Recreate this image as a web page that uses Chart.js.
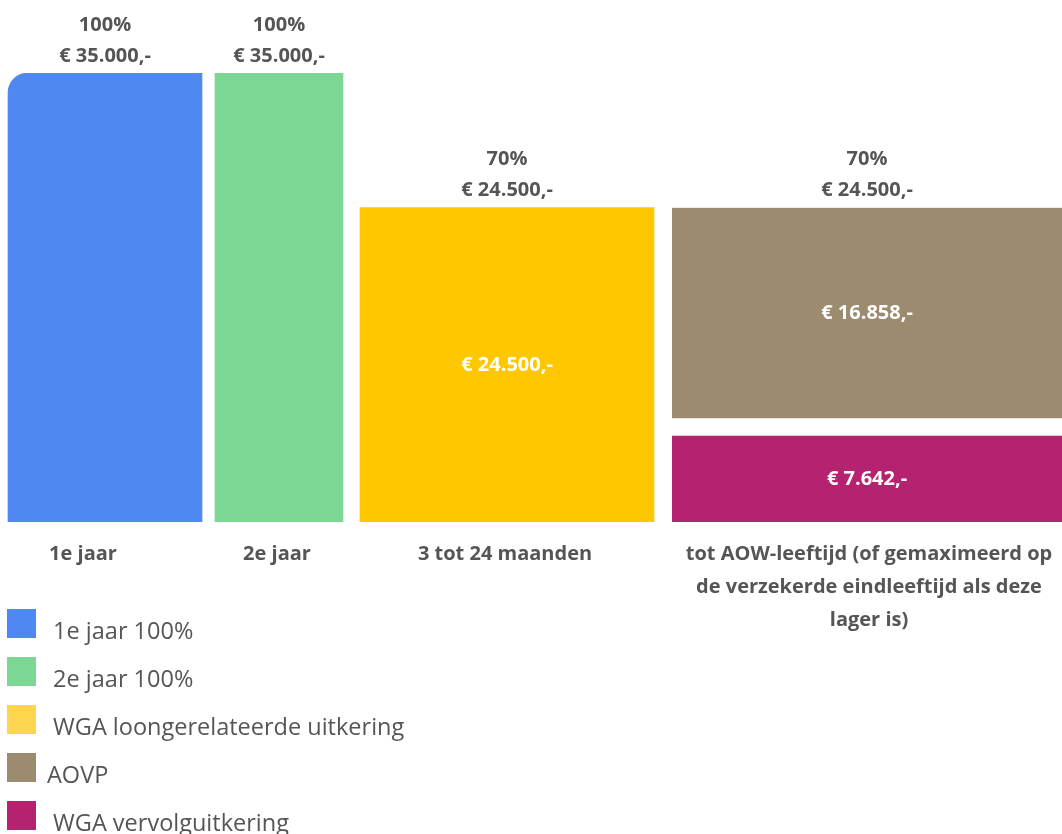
<!DOCTYPE html>
<html>
<head>
<meta charset="utf-8">
<script src="https://cdn.jsdelivr.net/npm/chart.js@4"></script>
<style>
    body { margin: 0; background: #fff; }
    #wrap { position: relative; width: 1062px; height: 834px; overflow: hidden; }
    #legend { position: absolute; left: 7px; top: 607px; margin: 0; padding: 0; list-style: none;
        font-family: 'Open Sans', sans-serif; font-size: 23.5px; color: #555; }
    #legend li { display: flex; align-items: flex-start; height: 48px; }
    #legend .box { width: 29px; height: 29px; margin-top: 2px; margin-right: 11px; flex: none; }
    #legend .txt { line-height: 47px; white-space: pre; }
</style>
</head>
<body>
<div id="wrap">
    <canvas id="chart" width="1062" height="834"></canvas>
    <ul id="legend"></ul>
</div>
<script>
// === Data ===
const periods = ['1e jaar', '2e jaar', '3 tot 24 maanden',
    ['tot AOW-leeftijd (of gemaximeerd op', 'de verzekerde eindleeftijd als deze', 'lager is)']];
const seriesNames = [' 1e jaar 100%', ' 2e jaar 100%', ' WGA loongerelateerde uitkering', 'AOVP', ' WGA vervolguitkering'];
const seriesPeriod = [0, 1, 2, 3, 3];
const seriesValues = [35000, 35000, 24500, 16858, 7642];
const periodPercent = ['100%', '100%', '70%', '70%'];
const periodTotal = [35000, 35000, 24500, 24500];

// === Layout / style ===
const columnWidths = [194, 128, 294, 390];   // px
const columnGaps = [8, 13, 17, 18];          // px before each column
const tickShift = [-22, -2, -2, 2];          // period labels are not exactly centred
const stackOrder = [0, 1, 2, 4, 3];          // WGA vervolg at the bottom, AOVP on top
const barColors = ['#5088f2', '#7dd794', '#ffc700', '#9d8b70', '#b52270'];
const legendColors = ['#5088f2', '#7dd794', '#ffd54f', '#9d8b70', '#b52270'];
const textGrey = '#555555';
const font = "'Open Sans', sans-serif";

const columnCenters = [];
let cursor = 0;
columnWidths.forEach((w, i) => {
    cursor += columnGaps[i];
    columnCenters.push(cursor + w / 2);
    cursor += w;
});

const euro = v => '€ ' + v.toLocaleString('nl-NL') + ',-';

const datasets = stackOrder.map(i => {
    const p = seriesPeriod[i];
    const ds = {
        label: seriesNames[i].trim(),
        data: [{ x: columnCenters[p], y: seriesValues[i] }],
        backgroundColor: barColors[i],
        borderColor: '#ffffff',
        borderWidth: 0,
        barThickness: columnWidths[p],
        maxBarThickness: columnWidths[p],
        series: i
    };
    if (i === 0) ds.borderRadius = { topLeft: 20, topRight: 0, bottomLeft: 0, bottomRight: 0 };
    if (i === 3) { ds.borderWidth = { top: 0, left: 0, right: 0, bottom: 6 }; ds.borderSkipped = false; }
    if (i === 4) ds.borderWidth = { top: 12, left: 0, right: 0, bottom: 0 };
    return ds;
});

// === Labels on and above the bars ===
const barLabels = {
    id: 'barLabels',
    afterDatasetsDraw(chart) {
        const ctx = chart.ctx;
        const y = chart.scales.y;
        const x = chart.scales.x;
        ctx.save();
        ctx.textAlign = 'center';
        ctx.textBaseline = 'middle';
        ctx.font = `bold 20px ${font}`;

        // top labels per period
        periodTotal.forEach((t, p) => {
            const top = y.getPixelForValue(t);
            const cx = x.getPixelForValue(columnCenters[p]);
            ctx.fillStyle = textGrey;
            ctx.fillText(periodPercent[p], cx, top - 48);
            ctx.fillText(euro(t), cx, top - 17);
        });

        // values inside the bars
        datasets.forEach((ds, d) => {
            if (ds.series < 2) return;
            const el = chart.getDatasetMeta(d).data[0];
            const bw = ds.borderWidth;
            const t = typeof bw === 'object' ? bw.top : 0;
            const b = typeof bw === 'object' ? bw.bottom : 0;
            const top = Math.min(el.y, el.base) + t;
            const bottom = Math.max(el.y, el.base) - b;
            ctx.fillStyle = '#ffffff';
            ctx.fillText(euro(seriesValues[ds.series]), el.x, (top + bottom) / 2);
        });
        ctx.restore();
    }
};

const chart = new Chart(document.getElementById('chart'), {
    type: 'bar',
    data: { datasets },
    options: {
        responsive: false,
        animation: false,
        layout: { padding: { top: 73, left: 0, right: 0, bottom: 0 } },
        plugins: { legend: { display: false }, tooltip: { enabled: false } },
        scales: {
            x: {
                type: 'linear',
                min: 0,
                max: 1062,
                offset: false,
                stacked: true,
                grid: { display: false, offset: false },
                border: { display: false },
                afterBuildTicks: axis => {
                    axis.ticks = columnCenters.map((v, i) => ({ value: v + tickShift[i] }));
                },
                afterFit: axis => {
                    axis.height = 312;
                    axis.paddingLeft = 0;
                    axis.paddingRight = 0;
                },
                ticks: {
                    autoSkip: false,
                    maxRotation: 0,
                    padding: 8,
                    color: textGrey,
                    font: { family: font, size: 20, weight: 'bold', lineHeight: 1.65 },
                    callback: (v, i) => periods[i]
                }
            },
            y: {
                stacked: true,
                display: false,
                min: 0,
                max: 35000
            }
        }
    },
    plugins: [barLabels]
});

// === HTML legend ===
const legend = document.getElementById('legend');
seriesNames.forEach((name, i) => {
    const li = document.createElement('li');
    li.innerHTML = `<span class="box" style="background:${legendColors[i]}"></span><span class="txt">${name}</span>`;
    legend.appendChild(li);
});
</script>
</body>
</html>
